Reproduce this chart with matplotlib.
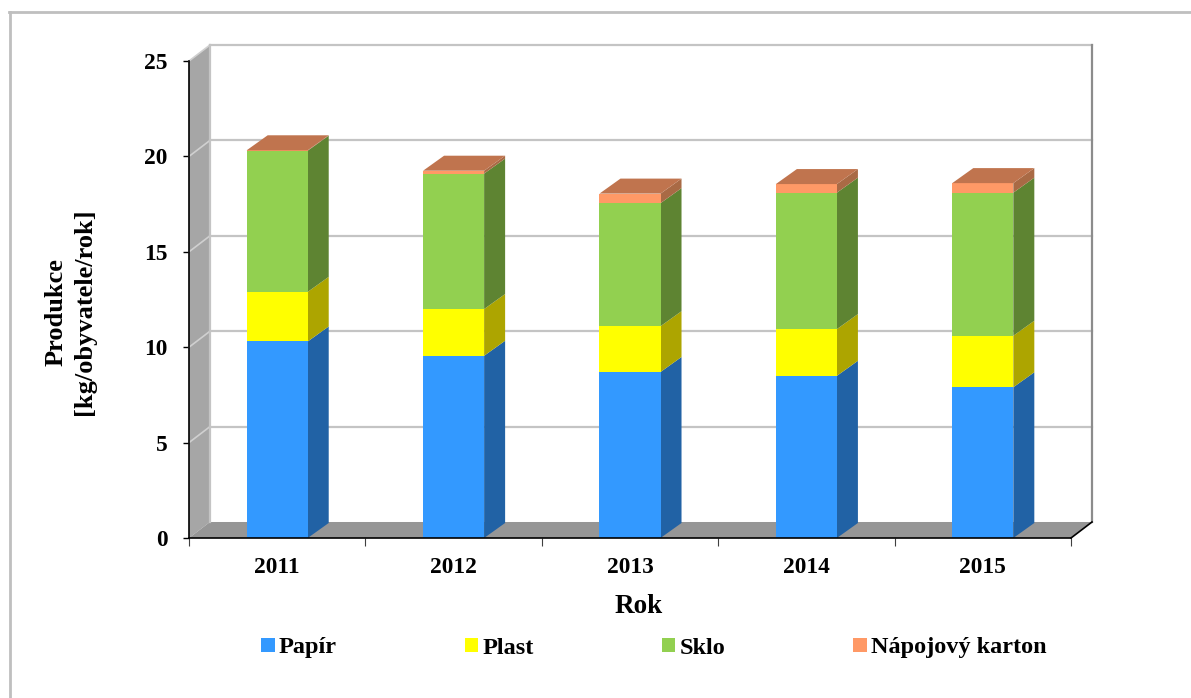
import matplotlib

matplotlib.use("Agg")
import matplotlib.pyplot as plt
import numpy as np
from matplotlib.lines import Line2D
from matplotlib.patches import Patch

plt.rcParams.update(
    {
        "font.family": ["Liberation Serif", "DejaVu Serif"],
        "font.weight": "bold",
        "font.size": 16.8,
        "axes.labelweight": "bold",
    }
)

years = ["2011", "2012", "2013", "2014", "2015"]
papir = [10.3, 9.55, 8.7, 8.5, 7.9]
plast = [2.6, 2.45, 2.4, 2.45, 2.7]
sklo = [7.4, 7.1, 6.45, 7.15, 7.5]
karton = [0.02, 0.15, 0.5, 0.45, 0.5]
series = [papir, plast, sklo, karton]
names = ["Papír", "Plast", "Sklo", "Nápojový karton"]
yticks = [0, 5, 10, 15, 20, 25]

front_colors = ["#3399FF", "#FFFF00", "#92D050", "#FF9966"]
side_colors = ["#2162A5", "#ADA500", "#5E8432", "#A96A45"]
top_color = "#C0744E"

# depth of the fake 3D box, in data units
dx = 21 / 176.4
dy = 16 / 19.07
bar_dy = 15 / 19.07
w = 0.346

fig = plt.figure(figsize=(11.91, 6.98), dpi=100)
ax = fig.add_axes([189 / 1191, 160 / 698, 882 / 1191, 477 / 698])
x = np.arange(len(years))
x0, x1 = -0.5, 4.5
ymax = 25
ax.set_xlim(x0, x1)
ax.set_ylim(0, ymax)

# walls and floor
ax.fill(
    [x0, x0 + dx, x0 + dx, x0],
    [0, dy, ymax + dy, ymax],
    color="#A6A6A6",
    lw=0,
    clip_on=False,
    zorder=1,
)
ax.fill(
    [x0, x0 + dx, x1 + dx, x1],
    [0, dy, dy, 0],
    color="#969696",
    lw=0,
    clip_on=False,
    zorder=1,
)

# gridlines on the back and left wall
for t in yticks[1:]:
    ax.plot(
        [x0 + dx, x1 + dx],
        [t + dy, t + dy],
        color="#C4C4C4",
        lw=1.6,
        clip_on=False,
        zorder=2,
    )
    ax.plot(
        [x0, x0 + dx],
        [t, t + dy],
        color="#D0D0D0",
        lw=1.2,
        clip_on=False,
        zorder=2,
    )
ax.plot(
    [x0 + dx, x0 + dx], [dy, ymax + dy], color="#C4C4C4", lw=1.6, clip_on=False, zorder=2
)
ax.plot(
    [x1 + dx, x1 + dx], [dy, ymax + dy], color="#8C8C8C", lw=1.6, clip_on=False, zorder=2
)
ax.plot([x1, x1 + dx], [0, dy], color="black", lw=1.2, clip_on=False, zorder=6)

# stacked bars with side and top faces
bottom = np.zeros(len(years))
for vals, fc, sc in zip(series, front_colors, side_colors):
    vals = np.array(vals)
    tops = bottom + vals
    for xi, b, t in zip(x, bottom, tops):
        r = xi + w / 2
        ax.fill(
            [r, r + dx, r + dx, r],
            [b, b + bar_dy, t + bar_dy, t],
            color=sc,
            lw=0,
            clip_on=False,
            zorder=3,
        )
    ax.bar(x, vals, w, bottom=bottom, color=fc, lw=0, zorder=4)
    bottom = tops

for xi, t in zip(x, bottom):
    le, r = xi - w / 2, xi + w / 2
    ax.fill(
        [le, le + dx, r + dx, r],
        [t, t + bar_dy, t + bar_dy, t],
        color=top_color,
        lw=0,
        clip_on=False,
        zorder=5,
    )

for s in ["top", "right"]:
    ax.spines[s].set_visible(False)
for s in ["left", "bottom"]:
    ax.spines[s].set_linewidth(1.2)
    ax.spines[s].set_zorder(6)

ax.set_yticks(yticks)
ax.tick_params(axis="y", length=4.5, width=1, pad=11)
ax.set_xticks(x)
ax.set_xticklabels(years)
ax.tick_params(axis="x", which="major", length=0, pad=13.5)
ax.set_xticks(np.arange(x0, x1 + 0.5), minor=True)
ax.tick_params(axis="x", which="minor", length=6, width=0.8, color="#404040")

ax.set_xlabel("Rok", fontsize=19.5, labelpad=12, x=0.51)
ax.set_ylabel("Produkce\n[kg/obyvatele/rok]", fontsize=19, linespacing=1.3)
ax.yaxis.set_label_coords(-0.105, 0.474)

handles = [Patch(color=c, lw=0) for c in front_colors]
fig.legend(
    handles,
    names,
    ncol=4,
    loc="center",
    bbox_to_anchor=(654 / 1191, 1 - 648 / 698),
    frameon=False,
    fontsize=17.5,
    handlelength=0.54,
    handleheight=0.54,
    handletextpad=0.18,
    columnspacing=5.27,
    borderpad=0,
    borderaxespad=0,
)

# frame of the picture, top and left only
fig.add_artist(Line2D([9.5 / 1191, 9.5 / 1191], [0, 1 - 12 / 698], color="#BFBFBF", lw=2))
fig.add_artist(Line2D([9 / 1191, 1], [1 - 12 / 698, 1 - 12 / 698], color="#BFBFBF", lw=2))

fig.savefig("out.png", dpi=100)
plt.close(fig)
